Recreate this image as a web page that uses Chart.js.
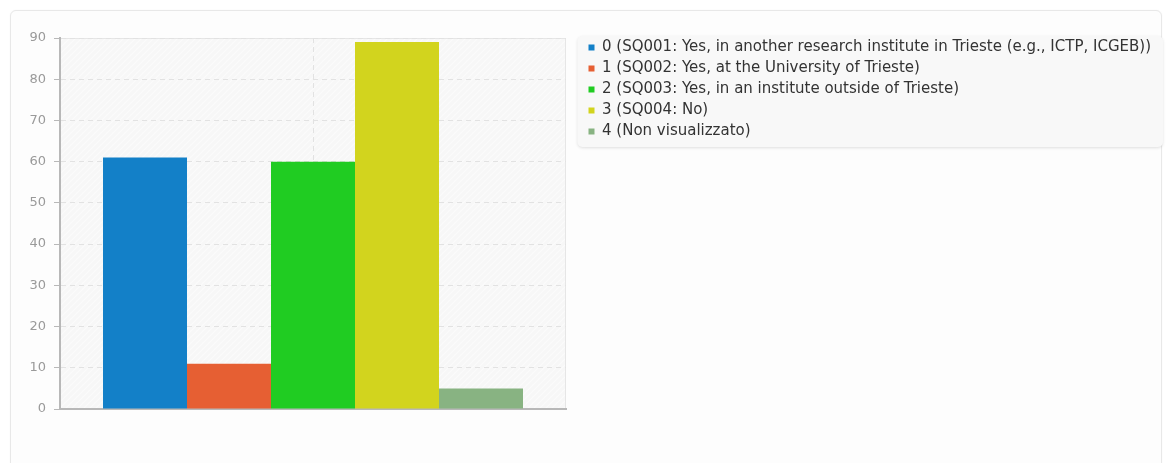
<!DOCTYPE html>
<html>
<head>
<meta charset="utf-8">
<script src="https://cdn.jsdelivr.net/npm/chart.js@4"></script>
<style>
  html, body { margin: 0; padding: 0; background: #ffffff; }
  #wrap { position: relative; width: 1168px; height: 463px; overflow: hidden; }
  #card {
    position: absolute; left: 10px; top: 10px; width: 1150px; height: 470px;
    border: 1px solid #e8e8e8; border-radius: 6px; background: #fdfdfd;
    box-shadow: 0 0 2px rgba(0,0,0,0.04);
  }
  #box { position: absolute; left: 0; top: 0; width: 1168px; height: 463px; }
</style>
</head>
<body>
<div id="wrap">
  <div id="card"></div>
  <div id="box"><canvas id="surveyChart"></canvas></div>
</div>
<script>
const categories = [''];
const seriesLabels = [
  '0 (SQ001: Yes, in another research institute in Trieste (e.g., ICTP, ICGEB))',
  '1 (SQ002: Yes, at the University of Trieste)',
  '2 (SQ003: Yes, in an institute outside of Trieste)',
  '3 (SQ004: No)',
  '4 (Non visualizzato)'
];
const seriesValues = [61, 11, 60, 89, 5];
const seriesColors = ['#1380c8', '#e65f33', '#20cc22', '#d2d41e', '#88b382'];
const yTicks = [0, 10, 20, 30, 40, 50, 60, 70, 80, 90];

function makeHatch() {
  const c = document.createElement('canvas');
  c.width = 6; c.height = 6;
  const g = c.getContext('2d');
  g.fillStyle = '#f7f7f7';
  g.fillRect(0, 0, 6, 6);
  g.strokeStyle = '#fbfbfb';
  g.lineWidth = 1.2;
  g.beginPath();
  g.moveTo(0, 6); g.lineTo(6, 0);
  g.moveTo(-3, 3); g.lineTo(3, -3);
  g.moveTo(3, 9); g.lineTo(9, 3);
  g.stroke();
  return c;
}

const panelPlugin = {
  id: 'panel',
  beforeDraw(chart) {
    const ctx = chart.ctx;
    const a = chart.chartArea;
    ctx.save();
    ctx.fillStyle = ctx.createPattern(makeHatch(), 'repeat');
    ctx.fillRect(a.left, a.top, a.right - a.left, a.bottom - a.top);
    ctx.strokeStyle = '#e6e6e6';
    ctx.lineWidth = 1;
    ctx.beginPath();
    ctx.moveTo(a.left, a.top + 0.5);
    ctx.lineTo(a.right - 0.5, a.top + 0.5);
    ctx.lineTo(a.right - 0.5, a.bottom);
    ctx.stroke();

    // legend background
    const hb = chart.legend.legendHitBoxes;
    if (hb && hb.length) {
      const first = hb[0], last = hb[hb.length - 1];
      const right = Math.max(...hb.map(h => h.left + h.width));
      const x = first.left - 11, y = first.top - 4;
      const w = right - x + 12, h = last.top + last.height + 8 - y;
      ctx.shadowColor = 'rgba(0,0,0,0.12)';
      ctx.shadowBlur = 3;
      ctx.shadowOffsetY = 1;
      ctx.fillStyle = '#f8f8f8';
      ctx.beginPath();
      ctx.roundRect(x, y, w, h, 5);
      ctx.fill();
    }
    ctx.restore();
  }
};

const ctx = document.getElementById('surveyChart').getContext('2d');
new Chart(ctx, {
  type: 'bar',
  data: {
    labels: categories,
    datasets: seriesLabels.map((label, i) => ({
      label: label,
      data: [seriesValues[i]],
      backgroundColor: seriesColors[i],
      borderWidth: 0,
      categoryPercentage: 0.83,
      barPercentage: 1.0
    }))
  },
  options: {
    responsive: true,
    maintainAspectRatio: false,
    animation: false,
    layout: { padding: { top: 34, left: 0, right: 7, bottom: 0 } },
    plugins: {
      legend: {
        position: 'right',
        align: 'start',
        maxWidth: 800,
        labels: {
          boxWidth: 6,
          boxHeight: 6,
          padding: 6,
          color: '#333333',
          font: { family: '"DejaVu Sans"', size: 15 }
        }
      },
      tooltip: { enabled: false }
    },
    scales: {
      x: {
        grid: {
          offset: false,
          color: '#e2e2e2',
          drawTicks: false
        },
        border: { color: '#b8b8b8', width: 2, dash: [5, 4] },
        ticks: { display: false },
        afterFit: s => { s.height = 54; }
      },
      y: {
        min: 0,
        max: 90,
        afterBuildTicks: s => { s.ticks = yTicks.map(v => ({ value: v })); },
        grid: {
          color: '#e2e2e2',
          tickLength: 6,
          tickColor: '#b8b8b8',
          tickBorderDash: []
        },
        border: { color: '#b8b8b8', width: 2, dash: [5, 4] },
        ticks: {
          padding: 8,
          color: '#9a9a9a',
          font: { family: '"DejaVu Sans"', size: 13 }
        },
        afterFit: s => { s.width = 60; s.paddingTop = 38; }
      },
      y2: {
        type: 'linear',
        position: 'right',
        grid: { display: false, drawTicks: false },
        border: { display: false },
        ticks: { display: false },
        afterFit: s => { s.width = 16.5; }
      }
    }
  },
  plugins: [panelPlugin]
});
</script>
</body>
</html>
